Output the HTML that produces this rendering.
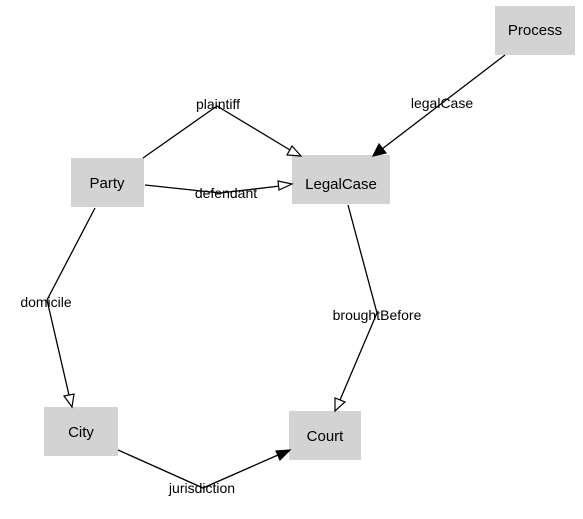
<!DOCTYPE html>
<html><head><style>body{margin:0;background:#fff}svg{display:block}</style></head><body>
<svg width="583" height="519" xmlns="http://www.w3.org/2000/svg" font-family="Liberation Sans, Arial, sans-serif" font-size="15">
<g fill="#d3d3d3">
<rect x="495" y="6" width="80" height="49"/>
<rect x="292" y="155" width="98" height="49"/>
<rect x="71" y="158" width="73" height="49"/>
<rect x="44" y="407" width="74" height="49"/>
<rect x="289" y="411" width="72" height="49"/>
</g>
<g fill="none" stroke="#000" stroke-width="1.3">
<polyline points="143,158 217,106 290,150"/>
<polyline points="145,185 220,193 280,186"/>
<line x1="505" y1="55" x2="382" y2="149"/>
<polyline points="95,208 47,300 69,395"/>
<polyline points="348,205 377,313 340,400"/>
<polyline points="118,450 203,488 278,455"/>
</g>
<g stroke="#000" stroke-width="1.2">
<polygon points="301,156 287,155 292,146" fill="#fff"/>
<polygon points="292,184 279,190 278,181" fill="#fff"/>
<polygon points="373,156 379,144 386,153" fill="#000"/>
<polygon points="72,407 64,396 74,394" fill="#fff"/>
<polygon points="335,411 335,398 345,402" fill="#fff"/>
<polygon points="290,450 280,460 276,451" fill="#000"/>
</g>
<g text-anchor="middle" fill="#000">
<text x="535" y="35">Process</text>
<text x="341" y="189">LegalCase</text>
<text x="107" y="188">Party</text>
<text x="81" y="437">City</text>
<text x="325" y="441">Court</text>
<text x="218" y="109" font-size="14">plaintiff</text>
<text x="442" y="108" font-size="14">legalCase</text>
<text x="226" y="198" font-size="14">defendant</text>
<text x="46" y="307" font-size="14">domicile</text>
<text x="377" y="320" font-size="14">broughtBefore</text>
<text x="202" y="493" font-size="14">jurisdiction</text>
</g>
</svg>
</body></html>
